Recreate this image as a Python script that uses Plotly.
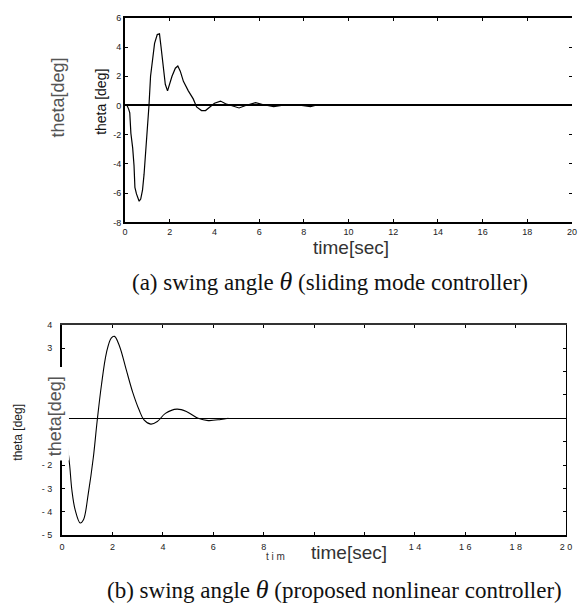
import plotly.graph_objects as go

W, H = 579, 613

# (a) sliding mode controller
t_a = [0.0, 0.09, 0.16, 0.21, 0.26, 0.34, 0.40, 0.44, 0.51, 0.58, 0.63, 0.70, 0.78, 0.85,
       0.93, 1.00, 1.07, 1.14, 1.22, 1.32, 1.44, 1.54, 1.61, 1.70, 1.80, 1.90, 1.99, 2.10,
       2.25, 2.36, 2.47, 2.61, 2.83, 3.05, 3.20, 3.42, 3.60, 3.78, 4.00, 4.27, 4.50, 4.75,
       5.10, 5.40, 5.84, 6.20, 6.65, 7.00, 7.45, 7.90, 8.30, 8.50]
theta_a = [0.0, 0.0, -0.25, -0.5, -1.9, -2.9, -4.1, -5.6, -6.05, -6.3, -6.55, -6.4, -5.8, -4.7,
           -3.1, -1.8, 0.0, 2.0, 3.1, 4.25, 4.85, 4.9, 4.0, 2.7, 1.45, 1.0, 1.45, 2.0,
           2.55, 2.7, 2.35, 1.65, 1.0, 0.45, -0.1, -0.35, -0.35, -0.1, 0.15, 0.3, 0.12, 0.0,
           -0.17, 0.0, 0.2, 0.05, -0.08, 0.0, 0.05, 0.0, -0.08, 0.0]

# (b) proposed nonlinear controller
t_b = [0.0, 0.1, 0.2, 0.3, 0.39, 0.52, 0.72, 0.85, 1.04, 1.24, 1.39, 1.56, 1.76, 1.95, 2.08,
       2.28, 2.54, 2.8, 3.06, 3.25, 3.52, 3.78, 4.1, 4.56, 4.95, 5.4, 5.8, 6.3, 6.6]
theta_b = [0.0, -0.5, -1.1, -2.0, -3.08, -3.92, -4.48, -4.34, -3.22, -1.68, -0.14, 1.4, 2.8,
           3.43, 3.5, 3.08, 2.1, 1.12, 0.35, -0.07, -0.25, -0.14, 0.21, 0.39, 0.28, 0.0,
           -0.1, -0.05, 0.0]

x_ticks = list(range(0, 21, 2))
x_ticktext_a = [str(v) for v in x_ticks]
x_ticktext_b = ["0", "2", "4", "6", "8", "", "", "1 4", "1 6", "1 8", "2 0"]
y_ticks_a = list(range(-8, 7, 2))
y_ticktext_a = [str(v) for v in y_ticks_a]
y_ticks_b = list(range(-5, 5))
y_ticktext_b = ["- 5", "- 4", "- 3", "- 2", "", "", "", "", "3", "4"]

SANS = "Liberation Sans, Arial, sans-serif"
SERIF = "Liberation Serif, DejaVu Serif, serif"

def px(x): return x / W
def py(y): return 1 - y / H

fig = go.Figure()
fig.add_trace(go.Scatter(x=t_a, y=theta_a, mode="lines", xaxis="x", yaxis="y",
                         line=dict(color="black", width=1.2), showlegend=False))
fig.add_trace(go.Scatter(x=t_b, y=theta_b, mode="lines", xaxis="x2", yaxis="y2",
                         line=dict(color="black", width=1.1, shape="spline"), showlegend=False))
# dummy traces so that mirrored tick axes exist
fig.add_trace(go.Scatter(x=[None], y=[None], xaxis="x3", yaxis="y", showlegend=False))
fig.add_trace(go.Scatter(x=[None], y=[None], xaxis="x", yaxis="y3", showlegend=False))
fig.add_trace(go.Scatter(x=[None], y=[None], xaxis="x4", yaxis="y2", showlegend=False))
fig.add_trace(go.Scatter(x=[None], y=[None], xaxis="x2", yaxis="y4", showlegend=False))

dom_xa = [px(124), px(578)]
dom_ya = [py(221), py(13)]
dom_xb = [px(60), px(572)]
dom_yb = [py(539), py(325)]

common = dict(showgrid=False, ticks="inside", ticklen=3, tickcolor="black", tickwidth=1,
              tickfont=dict(family=SANS, size=9, color="#222"))

fig.update_layout(
    width=W, height=H, margin=dict(l=0, r=0, t=0, b=0),
    paper_bgcolor="white", plot_bgcolor="white",
    xaxis=dict(domain=dom_xa, range=[0, 20], tickvals=x_ticks, ticktext=x_ticktext_a,
               showline=True, linewidth=2, linecolor="black", zeroline=False,
               anchor="y", ticklabelstandoff=0, **common),
    yaxis=dict(domain=dom_ya, range=[-8, 6], tickvals=y_ticks_a, ticktext=y_ticktext_a,
               showline=True, linewidth=2, linecolor="black", zeroline=True,
               zerolinecolor="black", zerolinewidth=1.5, anchor="x", **common),
    xaxis3=dict(overlaying="x", side="top", range=[0, 20], tickvals=x_ticks,
                showticklabels=False, showline=True, linewidth=1.5, linecolor="black",
                zeroline=False, anchor="y", **common),
    yaxis3=dict(overlaying="y", side="right", range=[-8, 6], tickvals=y_ticks_a,
                showticklabels=False, showline=False, zeroline=False, anchor="x", **common),
    xaxis2=dict(domain=dom_xb, range=[0, 20], tickvals=x_ticks, ticktext=x_ticktext_b,
                showline=True, linewidth=2, linecolor="black", zeroline=False,
                anchor="y2", ticklabelstandoff=2, **common),
    yaxis2=dict(domain=dom_yb, range=[-5, 4], tickvals=y_ticks_b, ticktext=y_ticktext_b,
                showline=True, linewidth=2.2, linecolor="black", zeroline=True,
                zerolinecolor="black", zerolinewidth=1.2, anchor="x2",
                ticklabelstandoff=6, **common),
    xaxis4=dict(overlaying="x2", side="top", range=[0, 20], tickvals=x_ticks,
                showticklabels=False, showline=True, linewidth=2, linecolor="#333",
                zeroline=False, anchor="y2", **common),
    yaxis4=dict(overlaying="y2", side="right", range=[-5, 4], tickvals=y_ticks_b,
                showticklabels=False, showline=True, linewidth=1, linecolor="black",
                zeroline=False, anchor="x2", **common),
    shapes=[dict(type="rect", xref="paper", yref="paper",
                 x0=px(33), x1=px(67), y0=py(463), y1=py(368),
                 fillcolor="white", line=dict(width=0), layer="above")],
)

ann = []
def add(text, x, y, size, color="#222", angle=0, family=SANS):
    ann.append(dict(text=text, x=px(x), y=py(y), xref="paper", yref="paper",
                    showarrow=False, textangle=angle, xanchor="center", yanchor="middle",
                    font=dict(family=family, size=size, color=color)))

add("theta [deg]", 100, 98, 14, "#111", -90)
add("theta[deg]", 56, 94, 18, "#555", -90)
add("time[sec]", 353, 247, 19, "#333")
add("(a) swing angle <i><span style='font-size:26px'>θ</span></i> (sliding mode controller)",
    332, 281, 23, "#111", 0, SERIF)
add("theta [deg]", 15, 434, 12, "#222", -90)
add("theta[deg]", 53, 418, 18, "#555", -90)
add("t i m", 277, 561, 10, "#333")
add("time[sec]", 351, 557, 19, "#333")
add("(b) swing angle <i><span style='font-size:26px'>θ</span></i> (proposed nonlinear controller)",
    337, 594, 23, "#111", 0, SERIF)
fig.update_layout(annotations=ann)

fig.write_html("out.html")
